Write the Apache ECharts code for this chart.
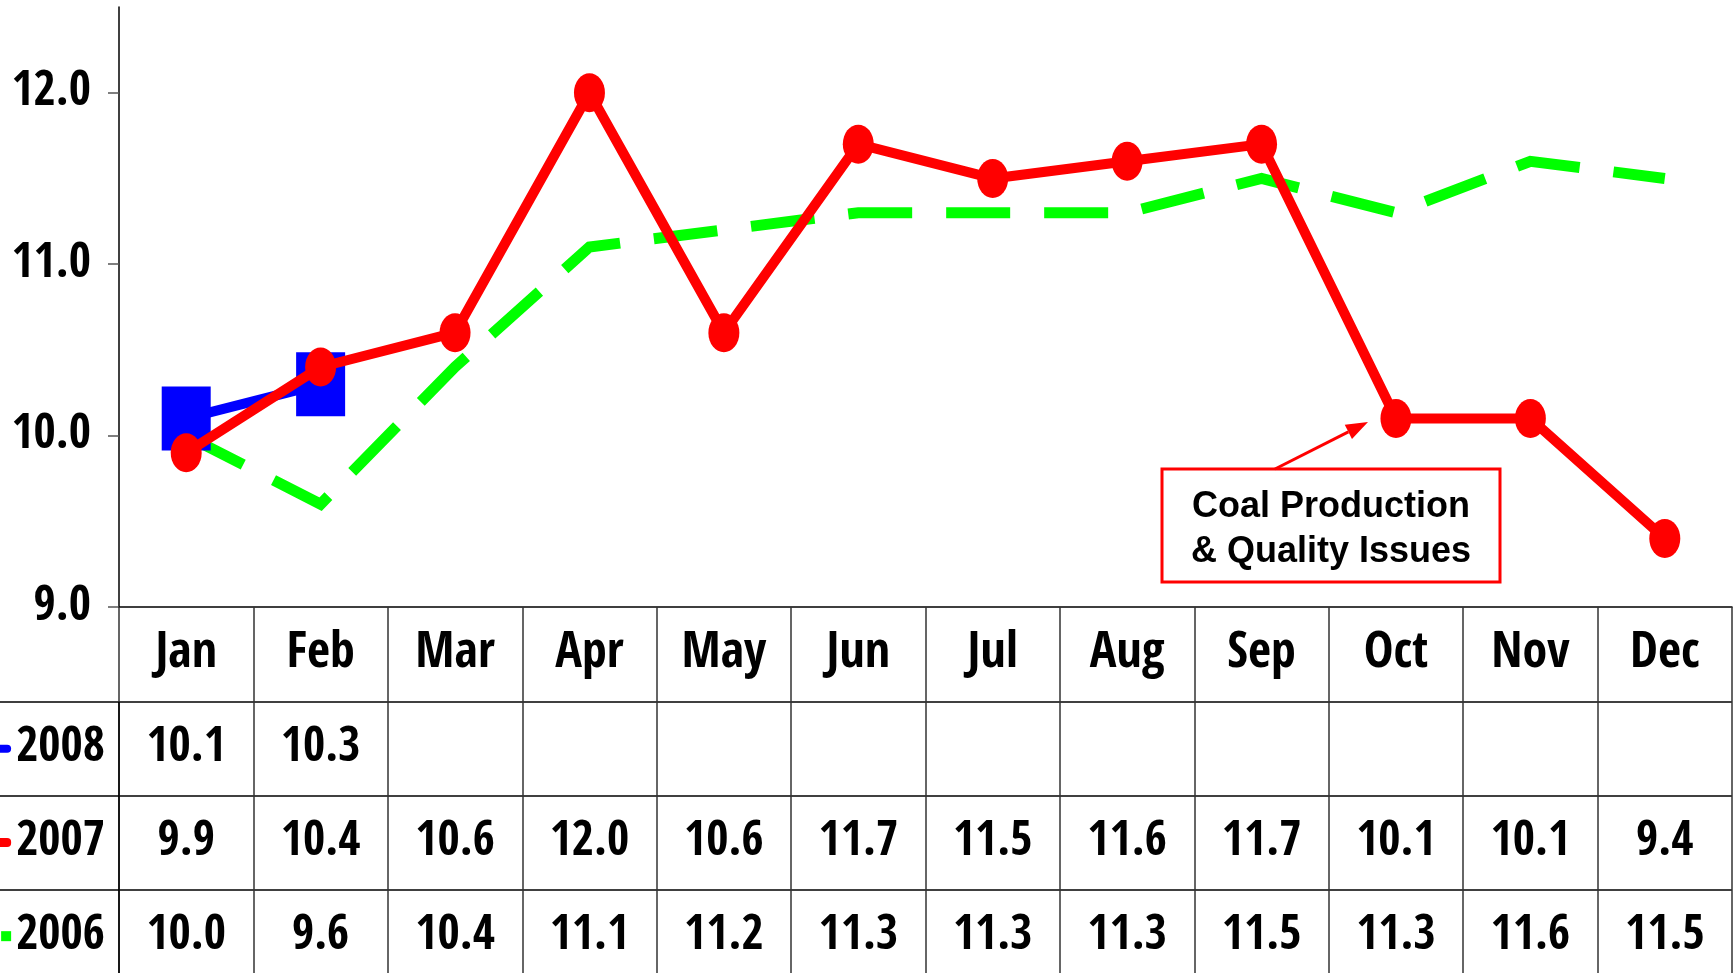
<!DOCTYPE html>
<html><head><meta charset="utf-8">
<script src="https://cdn.jsdelivr.net/npm/echarts@6/dist/echarts.min.js"></script>
<style>html,body{margin:0;padding:0;background:#fff}#c{width:1734px;height:973px}</style>
</head><body><div id="c"></div>
<script>
const months = ['Jan','Feb','Mar','Apr','May','Jun','Jul','Aug','Sep','Oct','Nov','Dec'];
const years = ['2008','2007','2006'];
const v2008 = [10.1, 10.3, null, null, null, null, null, null, null, null, null, null];
const v2007 = [9.9, 10.4, 10.6, 12.0, 10.6, 11.7, 11.5, 11.6, 11.7, 10.1, 10.1, 9.4];
const v2006 = [10.0, 9.6, 10.4, 11.1, 11.2, 11.3, 11.3, 11.3, 11.5, 11.3, 11.6, 11.5];
const yTicks = [9, 10, 11, 12];
const seriesColors = { '2008': '#0000FF', '2007': '#FF0000', '2006': '#00FF00' };
const noteText = 'Coal Production\n& Quality Issues';

const NARROW = '"Open Sans Condensed","Roboto Condensed",sans-serif';
const FS = 50, FSD = 48;
const values = { '2008': v2008, '2007': v2007, '2006': v2006 };

const tableData = [];
years.forEach(y => values[y].forEach((v, i) => { if (v != null) tableData.push([months[i], y, v]); }));

const ellipse = 'path://M0,50A50,50 0 1 1 100,50A50,50 0 1 1 0,50Z';

const chart = echarts.init(document.getElementById('c'), null, { renderer: 'canvas' });
const tip = [1368, 422], tail = [1275, 469];
const dx = tip[0] - tail[0], dy = tip[1] - tail[1], L = Math.hypot(dx, dy);
const ux = dx / L, uy = dy / L, nx = -uy, ny = ux;
const hl = 22, hw = 8;
const bx = tip[0] - hl * ux, by = tip[1] - hl * uy;

chart.setOption({
  animation: false,
  backgroundColor: '#fff',
  grid: [
    { left: 119, right: 2, top: 7, bottom: 366, containLabel: false, outerBoundsMode: 'none' },
    { left: 119, right: 2, top: 702, bottom: -10, containLabel: false, outerBoundsMode: 'none' }
  ],
  xAxis: [
    {
      type: 'category', gridIndex: 0, data: months, boundaryGap: true,
      axisLine: { lineStyle: { color: '#000', width: 1.5 } },
      axisTick: { show: true, interval: 0, length: 95, lineStyle: { color: '#333', width: 1.5 } },
      axisLabel: { interval: 0, margin: 47, verticalAlign: 'middle', fontSize: FS, fontWeight: 'bold', fontFamily: NARROW, color: '#000' },
      splitLine: { show: false }
    },
    {
      type: 'category', gridIndex: 1, data: months, boundaryGap: true,
      axisLine: { show: false }, axisTick: { show: false }, axisLabel: { show: false },
      splitLine: { show: true, interval: 0, lineStyle: { color: '#333', width: 1.5 } }
    }
  ],
  yAxis: [
    {
      type: 'value', gridIndex: 0, min: 9, max: 12.5, interval: 1,
      axisLine: { show: true, lineStyle: { color: '#000', width: 1.5 } },
      axisTick: { show: true, length: 11, customValues: yTicks, lineStyle: { color: '#555', width: 1.5 } },
      axisLabel: { customValues: yTicks, margin: 28, fontSize: FSD, fontWeight: 'bold', fontFamily: NARROW, color: '#000',
        formatter: v => (Number.isInteger(v) ? v.toFixed(1) : '') },
      splitLine: { show: false }
    },
    {
      type: 'category', gridIndex: 1, data: years, inverse: true, boundaryGap: true,
      axisLine: { show: true, lineStyle: { color: '#000', width: 1.5 } },
      axisTick: { show: true, interval: 0, length: 119, lineStyle: { color: '#000', width: 1.5 } },
      splitLine: { show: true, interval: 0, lineStyle: { color: '#000', width: 1.5 } },
      axisLabel: {
        interval: 0, margin: 14, color: '#000',
        formatter: v => `{k${v}|}{t|${v}}`,
        rich: {
          k2008: { width: 16, height: 8, backgroundColor: seriesColors['2008'], borderRadius: [0, 4, 4, 0] },
          k2007: { width: 16, height: 9, backgroundColor: seriesColors['2007'], borderRadius: [0, 4, 4, 0] },
          k2006: { width: 10, height: 10, backgroundColor: seriesColors['2006'] },
          t: { fontSize: FSD, fontWeight: 'bold', fontFamily: NARROW, color: '#000', padding: [0, 0, 0, 5] }
        }
      }
    }
  ],
  series: [
    {
      name: '2006', type: 'line', xAxisIndex: 0, yAxisIndex: 0, data: v2006, z: 2,
      symbol: 'none', silent: true,
      lineStyle: { color: seriesColors['2006'], width: 11, type: [64, 34], cap: 'butt', join: 'miter' }
    },
    {
      name: '2008', type: 'line', xAxisIndex: 0, yAxisIndex: 0, data: v2008, z: 3,
      symbol: 'rect', symbolSize: [49, 64], silent: true, clip: false,
      itemStyle: { color: seriesColors['2008'] },
      lineStyle: { color: seriesColors['2008'], width: 10 }
    },
    {
      name: '2007', type: 'line', xAxisIndex: 0, yAxisIndex: 0, data: v2007, z: 4,
      symbol: ellipse, symbolSize: [31, 39], silent: true, clip: false,
      itemStyle: { color: seriesColors['2007'] },
      lineStyle: { color: seriesColors['2007'], width: 10 }
    },
    {
      name: 'table', type: 'scatter', xAxisIndex: 1, yAxisIndex: 1, data: tableData, silent: true,
      symbol: 'rect', symbolSize: 1, itemStyle: { color: 'rgba(0,0,0,0)', opacity: 1 },
      label: { show: true, position: 'inside', formatter: p => p.value[2].toFixed(1),
        fontSize: FSD, fontWeight: 'bold', fontFamily: NARROW, color: '#000' }
    }
  ],
  graphic: [
    { type: 'rect', z: 100, shape: { x: 1162, y: 469, width: 338, height: 113 },
      style: { fill: '#fff', stroke: '#FF0000', lineWidth: 3 } },
    { type: 'text', z: 101, x: 1331, y: 530,
      style: { text: noteText, fill: '#000', font: 'bold 36px "Liberation Sans", Arial, sans-serif',
        textAlign: 'center', textVerticalAlign: 'middle', lineHeight: 45 } },
    { type: 'line', z: 101, shape: { x1: tail[0], y1: tail[1], x2: bx, y2: by },
      style: { stroke: '#FF0000', lineWidth: 3 } },
    { type: 'polygon', z: 101,
      shape: { points: [tip, [bx + hw * nx, by + hw * ny], [bx - hw * nx, by - hw * ny]] },
      style: { fill: '#FF0000' } }
  ]
});
</script>
</body></html>
